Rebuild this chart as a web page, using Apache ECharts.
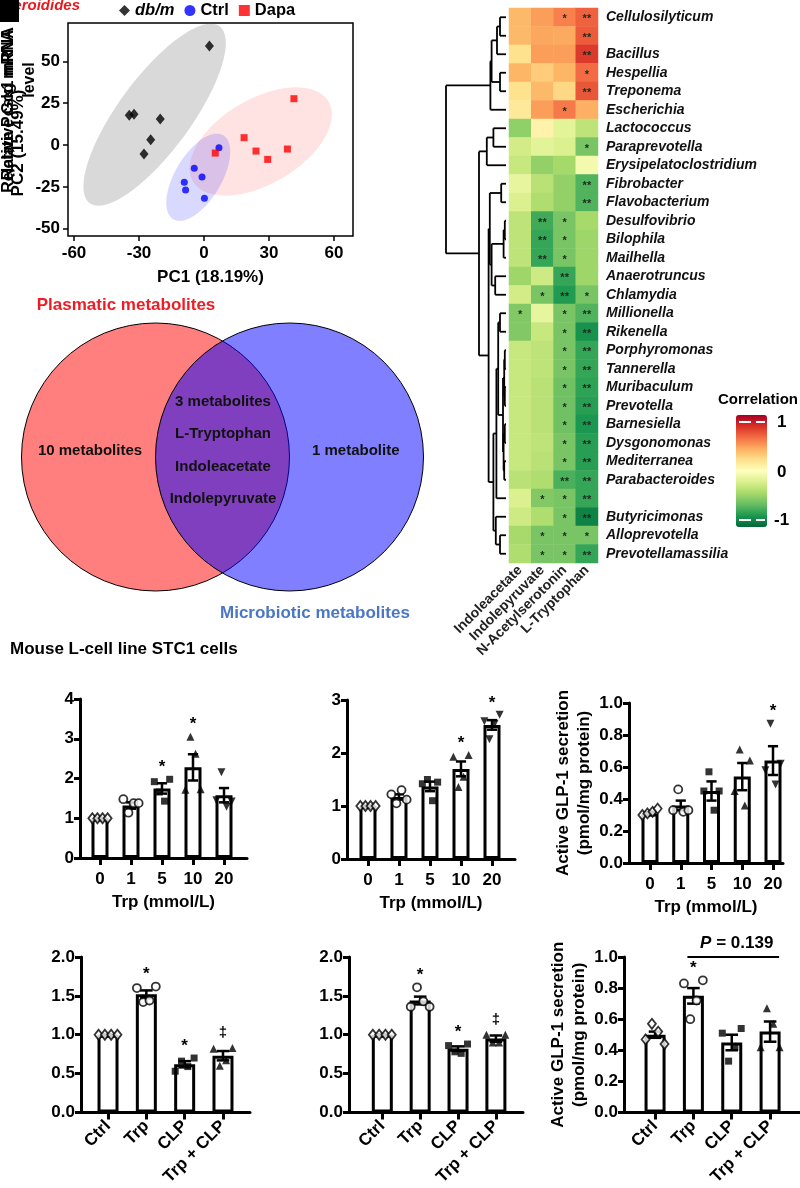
<!DOCTYPE html>
<html><head><meta charset="utf-8">
<script src="https://cdn.jsdelivr.net/npm/echarts@6/dist/echarts.min.js"></script>
<style>html,body{margin:0;padding:0;background:#fff}#c{width:800px;height:1188px}</style>
</head><body><div id="c"></div>
<script>
const FONT = '"Liberation Sans", Arial, sans-serif';

// ---------- PCA data ----------
const pcaDbm  = [[2.5,59.2],[-34.5,17.8],[-32.3,18.4],[-20.2,15.5],[-24.6,3.2],[-27.7,-5.4]];
const pcaCtrl = [[6.9,-1.6],[-4.5,-13.9],[-0.9,-19.1],[-9.1,-22.3],[-8.5,-26.9],[0.2,-31.9]];
const pcaDapa = [[5.2,-4.8],[18.5,4.4],[24,-3.6],[29.4,-8.6],[38.5,-2.4],[41.5,27.7]];
const pcaTicksX = [-60,-30,0,30,60];
const pcaTicksY = [-50,-25,0,25,50];

// ---------- Venn data ----------
const vennLeftTitle = 'Plasmatic metabolites';
const vennRightTitle = 'Microbiotic metabolites';
const vennLeftOnly = '10 metabolites';
const vennRightOnly = '1 metabolite';
const vennShared = ['3 metabolites','L-Tryptophan','Indoleacetate','Indolepyruvate'];

// ---------- Heatmap data ----------
const heatCols = ['Indoleacetate','Indolepyruvate','N-Acetylserotonin','L-Tryptophan'];
const heatRows = ['Cellulosilyticum','','Bacillus','Hespellia','Treponema','Escherichia','Lactococcus','Paraprevotella','Erysipelatoclostridium','Fibrobacter','Flavobacterium','Desulfovibrio','Bilophila','Mailhella','Anaerotruncus','Chlamydia','Millionella','Rikenella','Porphyromonas','Tannerella','Muribaculum','Prevotella','Barnesiella','Dysgonomonas','Mediterranea','Parabacteroides','','Butyricimonas','Alloprevotella','Prevotellamassilia'];
const heatVals = [
 [0.38,0.48,0.58,0.68],[0.38,0.45,0.44,0.70],[0.20,0.48,0.48,0.82],[0.40,0.30,0.40,0.65],[0.20,0.38,0.25,0.72],[0.15,0.48,0.60,0.42],
 [-0.50,0.08,-0.16,-0.33],[-0.24,-0.16,-0.20,-0.58],[-0.29,-0.49,-0.43,-0.07],[-0.13,-0.35,-0.49,-0.70],[-0.20,-0.39,-0.49,-0.70],
 [-0.33,-0.75,-0.58,-0.42],[-0.33,-0.78,-0.58,-0.45],[-0.33,-0.78,-0.58,-0.45],[-0.45,-0.26,-0.78,-0.45],[-0.24,-0.58,-0.84,-0.58],
 [-0.55,-0.13,-0.58,-0.70],[-0.55,-0.29,-0.58,-0.88],[-0.29,-0.33,-0.58,-0.78],[-0.29,-0.33,-0.58,-0.78],[-0.29,-0.35,-0.61,-0.80],
 [-0.29,-0.35,-0.61,-0.82],[-0.29,-0.35,-0.61,-0.86],[-0.29,-0.33,-0.58,-0.82],[-0.29,-0.35,-0.58,-0.82],[-0.35,-0.39,-0.72,-0.78],
 [-0.20,-0.55,-0.58,-0.78],[-0.26,-0.39,-0.58,-0.95],[-0.42,-0.58,-0.58,-0.58],[-0.39,-0.58,-0.58,-0.78]
];
const heatStars = [
 ['','','*','**'],['','','','**'],['','','','**'],['','','','*'],['','','','**'],['','','*',''],
 ['','','',''],['','','','*'],['','','',''],['','','','**'],['','','','**'],
 ['','**','*',''],['','**','*',''],['','**','*',''],['','','**',''],['','*','**','*'],
 ['*','','*','**'],['','','*','**'],['','','*','**'],['','','*','**'],['','','*','**'],
 ['','','*','**'],['','','*','**'],['','','*','**'],['','','*','**'],['','','**','**'],
 ['','*','*','**'],['','','*','**'],['','*','*','*'],['','*','*','**']
];
// dendrogram merges: [left, right, height]
const dendroTree = [
  [[[[0,1,0.1],2,0.15],[3,4,0.1],0.24],5,0.26],
  [
    [[6,7,0.21],8,0.32],
    [
      [[9,10,0.08],[[[11,12,0.02],13,0.04],[14,15,0.18],0.24],0.27],
      [[[[16,17,0.1],[[[18,19,0.02],[20,21,0.02],0.03],[[22,23,0.02],[24,25,0.03],0.04],0.05],0.13],26,0.16],[27,[28,29,0.1],0.17],0.21],
      0.29],
    0.45],
  1.0];
const corrTicks = ['1','0','-1'];

// ---------- Bar panels data ----------
const doseCats = ['0','1','5','10','20'];
const groupCats = ['Ctrl','Trp','CLP','Trp + CLP'];

const gcgDoseMean = [1.0,1.32,1.75,2.28,1.58];
const gcgDoseSem  = [0.01,0.08,0.13,0.33,0.18];
const gcgDosePts  = [[1,1,1,1],[1.48,1.14,1.38,1.38],[1.92,1.66,1.43,1.98],[1.72,3.05,2.62,1.73],[1.45,2.16,1.29,1.42]];
const gcgDoseSig  = ['','','*','*',''];

const pcskDoseMean = [1.0,1.17,1.37,1.70,2.53];
const pcskDoseSem  = [0.01,0.05,0.09,0.14,0.09];
const pcskDosePts  = [[1,1,1,1],[1.22,1.05,1.30,1.12],[1.42,1.50,1.10,1.45],[1.93,1.36,1.55,1.96],[2.60,2.26,2.55,2.72]];
const pcskDoseSig  = ['','','','*','*'];

const glpDoseMean = [0.31,0.36,0.45,0.54,0.64];
const glpDoseSem  = [0.01,0.03,0.06,0.085,0.09];
const glpDosePts  = [[0.30,0.31,0.32,0.34],[0.33,0.46,0.32,0.33],[0.45,0.57,0.33,0.45],[0.45,0.71,0.36,0.64],[0.58,0.87,0.49,0.62]];
const glpDoseSig  = ['','','','','*'];

const gcgGrpMean = [1.0,1.52,0.62,0.73];
const gcgGrpSem  = [0.005,0.05,0.04,0.06];
const gcgGrpPts  = [[1,1,1,1],[1.60,1.42,1.44,1.62],[0.53,0.66,0.59,0.70],[0.82,0.60,0.67,0.83]];
const gcgGrpSig  = ['','*','*','‡'];

const pcskGrpMean = [1.0,1.44,0.82,0.95];
const pcskGrpSem  = [0.005,0.05,0.03,0.04];
const pcskGrpPts  = [[1,1,1,1],[1.36,1.61,1.43,1.36],[0.86,0.78,0.76,0.88],[1.0,0.90,0.90,1.0]];
const pcskGrpSig  = ['','*','*','‡'];

const glpGrpMean = [0.50,0.75,0.45,0.52];
const glpGrpSem  = [0.02,0.05,0.05,0.065];
const glpGrpPts  = [[0.47,0.57,0.52,0.44],[0.83,0.60,0.72,0.85],[0.51,0.33,0.42,0.54],[0.42,0.67,0.57,0.42]];
const glpGrpSig  = ['','*','',''];
const glpGrpP = {from:2, to:4, y:1.0, text:'0.139'};

// ================= build =================
const chart = echarts.init(document.getElementById('c'));
const grids = [], xAxes = [], yAxes = [], series = [], graphics = [];
const blk = '#000';
const axTxt = {color:blk, fontWeight:'bold', fontSize:17, fontFamily:FONT};

function txt(text, x, y, o) {
  o = o || {};
  const st = {text, fill:o.color||blk, font:(o.font||('bold 17px '+FONT)),
    align:o.align||'center', verticalAlign:o.va||'middle', textAlign:o.align||'center', textVerticalAlign:o.va||'middle'};
  graphics.push({type:'text', x, y, rotation:o.rot||0, z:o.z||50, style:st, silent:true});
}

// ---- PCA (grid 0)
grids.push({left:68, top:23, width:285, height:213, show:true, borderColor:blk, borderWidth:1.5, backgroundColor:'#fff'});
xAxes.push({gridIndex:0, type:'value', min:-62.77, max:68.77, splitLine:{show:false},
  axisLine:{show:false,onZero:false}, axisTick:{show:true, customValues:pcaTicksX, length:5, lineStyle:{color:blk,width:1.5}},
  axisLabel:Object.assign({customValues:pcaTicksX, margin:9}, axTxt),
  name:'PC1 (18.19%)', nameLocation:'middle', nameGap:33, nameTextStyle:Object.assign({}, axTxt)});
yAxes.push({gridIndex:0, type:'value', min:-54.4, max:72.97, splitLine:{show:false},
  axisLine:{show:false,onZero:false}, axisTick:{show:true, customValues:pcaTicksY, length:5, lineStyle:{color:blk,width:1.5}},
  axisLabel:Object.assign({customValues:pcaTicksY, margin:8}, axTxt)});

function ellipseSeries(pts, fill) {
  const n = pts.length;
  const mx = pts.reduce((s,p)=>s+p[0],0)/n, my = pts.reduce((s,p)=>s+p[1],0)/n;
  let sxx=0, syy=0, sxy=0;
  pts.forEach(p=>{sxx+=(p[0]-mx)**2; syy+=(p[1]-my)**2; sxy+=(p[0]-mx)*(p[1]-my);});
  sxx/=(n-1); syy/=(n-1); sxy/=(n-1);
  const T = sxx+syy, D = sxx*syy-sxy*sxy, q = Math.sqrt(Math.max(T*T/4-D,0));
  const l1 = T/2+q, l2 = Math.max(T/2-q,0);
  const th = 0.5*Math.atan2(2*sxy, sxx-syy);
  const k = Math.sqrt(5.991);
  const a = k*Math.sqrt(l1), b = k*Math.sqrt(l2);
  const poly = [];
  for (let i=0;i<120;i++){
    const t = i/120*2*Math.PI;
    poly.push([mx + a*Math.cos(t)*Math.cos(th) - b*Math.sin(t)*Math.sin(th),
               my + a*Math.cos(t)*Math.sin(th) + b*Math.sin(t)*Math.cos(th)]);
  }
  return {type:'custom', xAxisIndex:0, yAxisIndex:0, data:[[mx,my]], silent:true, z:1, clip:true,
    renderItem:(p,api)=>({type:'polygon', shape:{points:poly.map(pt=>api.coord(pt))}, style:{fill}})};
}
series.push(ellipseSeries(pcaDbm,'rgba(128,128,128,0.30)'));
series.push(ellipseSeries(pcaDapa,'rgba(255,0,0,0.11)'));
series.push(ellipseSeries(pcaCtrl,'rgba(0,0,255,0.15)'));
series.push({type:'scatter', name:'db/m', xAxisIndex:0, yAxisIndex:0, data:pcaDbm, symbol:'diamond', symbolSize:[9,11], itemStyle:{color:'#000'}, z:5});
series.push({type:'scatter', name:'Ctrl', xAxisIndex:0, yAxisIndex:0, data:pcaCtrl, symbol:'circle', symbolSize:7, itemStyle:{color:'#0000ff'}, z:5});
series.push({type:'scatter', name:'Dapa', xAxisIndex:0, yAxisIndex:0, data:pcaDapa, symbol:'rect', symbolSize:7, itemStyle:{color:'#ff0000'}, z:5});

// ---- Dendrogram (grid 1)
grids.push({left:446, top:8, width:60, height:555});
xAxes.push({gridIndex:1, type:'value', min:0, max:1, inverse:true, show:false});
yAxes.push({gridIndex:1, type:'value', min:-0.5, max:heatRows.length-0.5, inverse:true, show:false});
const dSegs = [];
(function lay(node){
  if (typeof node === 'number') return {y:node, h:0};
  const a = lay(node[0]), b = lay(node[1]), h = node[2];
  dSegs.push([a.h,a.y,h,a.y],[h,a.y,h,b.y],[b.h,b.y,h,b.y]);
  return {y:(a.y+b.y)/2, h};
})(dendroTree);
series.push({type:'custom', xAxisIndex:1, yAxisIndex:1, data:dSegs, silent:true, clip:false,
  renderItem:(p,api)=>{
    const s = api.coord([api.value(0),api.value(1)]), e = api.coord([api.value(2),api.value(3)]);
    return {type:'line', shape:{x1:s[0],y1:s[1],x2:e[0],y2:e[1]}, style:{stroke:blk, lineWidth:1.8}};
  }});

// ---- Heatmap (grid 2)
grids.push({left:509, top:8, width:89, height:555});
xAxes.push({gridIndex:2, type:'category', data:heatCols, axisLine:{show:false}, axisTick:{show:false}, splitLine:{show:false},
  axisLabel:{rotate:45, margin:5, fontSize:14, fontWeight:'bold', color:'#222', fontFamily:FONT, interval:0}});
yAxes.push({gridIndex:2, type:'category', data:heatRows, inverse:true, position:'right', axisLine:{show:false}, axisTick:{show:false},
  axisLabel:{margin:8, fontSize:14, fontWeight:'bold', fontStyle:'italic', color:'#111', fontFamily:FONT, interval:0}});
const heatData = [];
heatVals.forEach((row,r)=>row.forEach((v,c)=>heatData.push([c,r,v,heatStars[r][c]])));
const heatSeriesIndex = series.length;
series.push({type:'heatmap', xAxisIndex:2, yAxisIndex:2, data:heatData, silent:true,
  label:{show:true, formatter:p=>p.data[3], fontSize:11, fontWeight:'bold', color:'#1d2b1d', fontFamily:FONT, offset:[0,2]},
  itemStyle:{borderWidth:0}});

// ---- Bar panels (grids 3..8)
const markers = [
  {symbol:'diamond', open:true, size:[8,10]},
  {symbol:'circle', open:true, size:8},
  {symbol:'rect', size:7},
  {symbol:'triangle', size:8},
  {symbol:'triangle', size:8, rot:180}
];
const panels = [
  {box:{left:80, top:699, width:167, height:159}, cats:doseCats, mean:gcgDoseMean, sem:gcgDoseSem, pts:gcgDosePts, sig:gcgDoseSig, yMax:4, yInt:1, dec:0, xMin:0.355, xMax:5.742, barW:17, rot:0, xName:'Trp (mmol/L)'},
  {box:{left:347, top:700, width:168, height:159}, cats:doseCats, mean:pcskDoseMean, sem:pcskDoseSem, pts:pcskDosePts, sig:pcskDoseSig, yMax:3, yInt:1, dec:0, xMin:0.323, xMax:5.742, barW:17, rot:0, xName:'Trp (mmol/L)'},
  {box:{left:629, top:703, width:154, height:160}, cats:doseCats, mean:glpDoseMean, sem:glpDoseSem, pts:glpDosePts, sig:glpDoseSig, yMax:1, yInt:0.2, dec:1, xMin:0.317, xMax:5.325, barW:17, rot:0, xName:'Trp (mmol/L)', yName:'Active GLP-1 secretion\n(pmol/mg protein)'},
  {box:{left:81, top:957, width:169, height:158}, cats:groupCats, mean:gcgGrpMean, sem:gcgGrpSem, pts:gcgGrpPts, sig:gcgGrpSig, yMax:2, yInt:0.5, dec:1, xMin:0.295, xMax:4.705, barW:21, rot:45},
  {box:{left:349, top:957, width:174, height:160}, cats:groupCats, mean:pcskGrpMean, sem:pcskGrpSem, pts:pcskGrpPts, sig:pcskGrpSig, yMax:2, yInt:0.5, dec:1, xMin:0.12, xMax:4.716, barW:21, rot:45},
  {box:{left:624, top:957, width:176, height:159}, cats:groupCats, mean:glpGrpMean, sem:glpGrpSem, pts:glpGrpPts, sig:glpGrpSig, yMax:1, yInt:0.2, dec:1, xMin:0.19, xMax:4.78, barW:21, rot:45, yName:'Active GLP-1 secretion\n(pmol/mg protein)', pval:glpGrpP}
];
panels.forEach((P, k)=>{
  const gi = grids.length;
  grids.push(Object.assign({}, P.box));
  const pos = P.cats.map((c,i)=>i+1);
  const lineS = {color:blk, width:3};
  xAxes.push({gridIndex:gi, type:'value', min:P.xMin, max:P.xMax, splitLine:{show:false},
    axisLine:{show:true, onZero:false, lineStyle:lineS},
    axisTick:{show:true, customValues:pos, length:7, lineStyle:lineS},
    axisLabel:Object.assign({customValues:pos, formatter:v=>P.cats[Math.round(v)-1], rotate:P.rot, margin:P.rot?11:13}, axTxt),
    name:P.xName||'', nameLocation:'middle', nameGap:36, nameTextStyle:Object.assign({}, axTxt)});
  const ya = {gridIndex:gi, type:'value', min:0, max:P.yMax, interval:P.yInt, splitLine:{show:false},
    axisLine:{show:true, onZero:false, lineStyle:lineS},
    axisTick:{show:true, length:6, lineStyle:lineS},
    axisLabel:Object.assign({margin:6, formatter:v=>v.toFixed(P.dec)}, axTxt)};
  if (P.yName) Object.assign(ya, {name:P.yName, nameLocation:'middle', nameRotate:90, nameGap:34,
    nameTextStyle:Object.assign({lineHeight:21}, axTxt)});
  yAxes.push(ya);
  series.push({type:'bar', xAxisIndex:gi, yAxisIndex:gi, data:P.mean.map((m,i)=>[i+1,m]), barWidth:P.barW, silent:true,
    itemStyle:{color:'#fff', borderColor:blk, borderWidth:3}, z:2});
  series.push({type:'custom', xAxisIndex:gi, yAxisIndex:gi, silent:true, z:4, clip:false,
    data:P.mean.map((m,i)=>[i+1, m-P.sem[i], m+P.sem[i]]),
    renderItem:(p,api)=>{
      const lo = api.coord([api.value(0),api.value(1)]), hi = api.coord([api.value(0),api.value(2)]);
      const cw = P.barW*0.3, st = {stroke:blk, lineWidth:2.5};
      return {type:'group', children:[
        {type:'line', shape:{x1:lo[0],y1:lo[1],x2:hi[0],y2:hi[1]}, style:st},
        {type:'line', shape:{x1:hi[0]-cw,y1:hi[1],x2:hi[0]+cw,y2:hi[1]}, style:st},
        {type:'line', shape:{x1:lo[0]-cw,y1:lo[1],x2:lo[0]+cw,y2:lo[1]}, style:st}]};
    }});
  const sp = [];
  P.pts.forEach((arr,i)=>{
    const mk = markers[i];
    arr.forEach((v,j)=>{
      sp.push({value:[i+1,v], symbol:mk.symbol, symbolSize:mk.size, symbolRotate:mk.rot||0,
        symbolOffset:[(j-1.5)*P.barW*0.3, 0],
        itemStyle: mk.open ? {color:'#fff', borderColor:blk, borderWidth:1.8} : {color:blk}});
    });
  });
  series.push({type:'scatter', xAxisIndex:gi, yAxisIndex:gi, data:sp, silent:true, z:5, clip:false});
  const sigItems = [];
  P.sig.forEach((s,i)=>{ if (s) sigItems.push({x:i+1, top:Math.max(Math.max.apply(null,P.pts[i]), P.mean[i]+P.sem[i]), t:s}); });
  series.push({type:'custom', xAxisIndex:gi, yAxisIndex:gi, silent:true, z:6, clip:false,
    data:sigItems.map(s=>[s.x, s.top]),
    renderItem:(p,api)=>{
      const c = api.coord([api.value(0),api.value(1)]);
      const s = sigItems[p.dataIndex].t;
      return {type:'text', x:c[0], y:c[1]-(s==='‡'?15:12), style:{text:s, font:'bold '+(s==='‡'?15:17)+'px '+FONT, fill:blk, align:'center', verticalAlign:'middle'}};
    }});
  if (P.pval) {
    const pv = P.pval;
    series.push({type:'custom', xAxisIndex:gi, yAxisIndex:gi, silent:true, z:6, clip:false,
      data:[[pv.from, pv.to, pv.y]],
      renderItem:(p,api)=>{
        const a = api.coord([api.value(0),api.value(2)]), b = api.coord([api.value(1),api.value(2)]);
        return {type:'group', children:[
          {type:'line', shape:{x1:a[0]-6,y1:a[1],x2:b[0]+9,y2:b[1]}, style:{stroke:blk, lineWidth:2}},
          {type:'text', x:(a[0]+b[0])/2+5, y:a[1]-14, style:{text:'{i|P} = '+pv.text, font:'bold 17px '+FONT, fill:blk, align:'center', verticalAlign:'middle',
            rich:{i:{fontStyle:'italic', fontWeight:'bold', fontSize:17, fontFamily:FONT}}}}]};
      }});
  }
});

// ---- Venn (graphic)
graphics.push({type:'circle', shape:{cx:155.5, cy:457, r:134}, style:{fill:'rgba(255,0,0,0.5)', stroke:blk, lineWidth:1}, z:10, silent:true});
graphics.push({type:'circle', shape:{cx:289.5, cy:457, r:134}, style:{fill:'rgba(0,0,255,0.5)', stroke:blk, lineWidth:1}, z:11, silent:true});
txt(vennLeftTitle, 126, 305, {color:'#ee1c25'});
txt(vennRightTitle, 220, 613, {color:'#4a76c5', align:'left'});
txt(vennLeftOnly, 90, 451, {font:'bold 15px '+FONT, color:'#111'});
txt(vennRightOnly, 312, 451, {font:'bold 15px '+FONT, color:'#111', align:'left'});
vennShared.forEach((s,i)=>txt(s, 223, 402+i*32.3, {font:'bold 15px '+FONT, color:'#111'}));

// ---- misc texts
txt('Mouse L-cell line STC1 cells', 10, 649, {align:'left'});
// top-left overlapped labels
txt('Relative Gcg mRNA', 9, 105, {rot:Math.PI/2, font:'bold 16px '+FONT});
txt('Relative Pcsk1 mRNA', 9, 110, {rot:Math.PI/2, font:'bold 16px '+FONT});
txt('level', 30, 80, {rot:Math.PI/2, font:'bold 16px '+FONT});
txt('PC2 (15.49%)', 18, 143, {rot:Math.PI/2, font:'bold 17px '+FONT});
txt('Bacteroidides', 80, 6, {align:'right', color:'#e8191e', font:'italic bold 15px '+FONT});
graphics.push({type:'rect', shape:{x:0,y:0,width:19,height:22}, style:{fill:'#000'}, z:60, silent:true});

// ---- colorbar texts
txt('Correlation', 718, 400, {align:'left', font:'bold 15px '+FONT});
txt(corrTicks[0], 777, 422, {align:'left'});
txt(corrTicks[1], 777, 472, {align:'left'});
txt(corrTicks[2], 774, 520, {align:'left'});
[422,520].forEach(y=>{
  graphics.push({type:'line', shape:{x1:739,y1:y,x2:751,y2:y}, style:{stroke:'#fff', lineWidth:2}, z:70, silent:true});
  graphics.push({type:'line', shape:{x1:756,y1:y,x2:765,y2:y}, style:{stroke:'#fff', lineWidth:2}, z:70, silent:true});
});

chart.setOption({
  animation:false,
  backgroundColor:'#fff',
  textStyle:{fontFamily:FONT},
  grid:grids, xAxis:xAxes, yAxis:yAxes, series,
  legend:{left:119, top:2, padding:0, itemWidth:11, itemHeight:11, itemGap:10, selectedMode:false,
    data:[{name:'db/m', icon:'diamond', textStyle:{fontStyle:'italic'}},{name:'Ctrl', icon:'circle'},{name:'Dapa', icon:'rect'}],
    textStyle:{fontWeight:'bold', fontSize:16.5, color:blk, fontFamily:FONT}},
  visualMap:{type:'continuous', seriesIndex:heatSeriesIndex, dimension:2, min:-1.07, max:1.07, calculable:false, orient:'vertical',
    left:731, top:410, itemWidth:31, itemHeight:112, padding:5, text:null, hoverLink:false,
    inRange:{color:['#006837','#1a9850','#66bd63','#a6d96a','#d9ef8b','#ffffbf','#fee08b','#fdae61','#f46d43','#d73027','#a50026']}},
  graphic:graphics
});
</script></body></html>
